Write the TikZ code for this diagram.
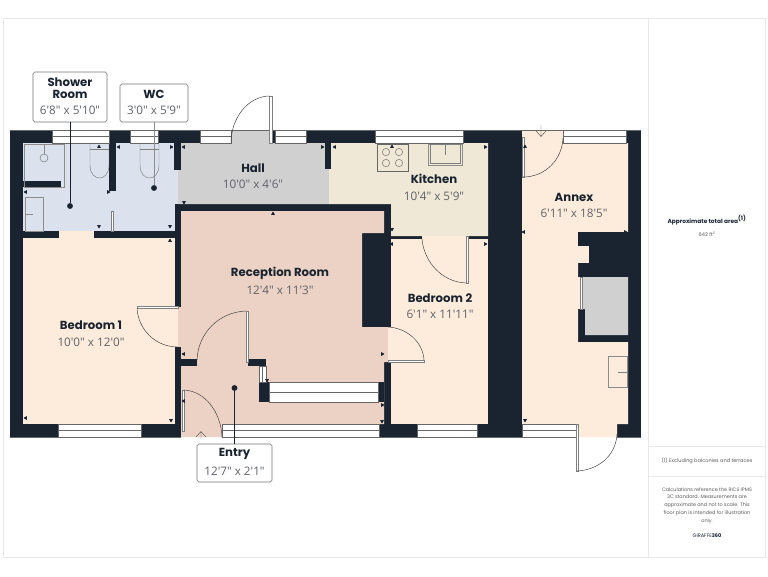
\documentclass[tikz,border=0pt]{standalone}
\usepackage{fontspec}
\setmainfont{Poppins}
\newfontfamily\sizefont{Open Sans}
\usetikzlibrary{positioning}
\definecolor{wallcol}{RGB}{26, 36, 49}
\definecolor{peachcol}{RGB}{253, 236, 219}
\definecolor{pinkcol}{RGB}{235, 210, 196}
\definecolor{bluecol}{RGB}{219, 226, 238}
\definecolor{hallcol}{RGB}{208, 208, 208}
\definecolor{creamcol}{RGB}{239, 232, 214}
\definecolor{sizecol}{RGB}{95, 98, 104}
\definecolor{framecol}{RGB}{232, 232, 232}
\newcommand{\fts}{\textquotesingle}
\newcommand{\ins}{\textquotedbl}

\begin{document}
\begin{tikzpicture}[x=0.03cm, y=-0.03cm,
  wall/.style={fill=wallcol, draw=none},
  glass/.style={fill=white, draw=black!60, line width=0.5pt},
  fixture/.style={draw=black!45, line width=0.7pt},
  leaf/.style={fill=white, draw=black!50, line width=0.35pt},
  swing/.style={draw=black!75, line width=0.4pt},
  tagbox/.style={draw=black!55, fill=white, rounded corners=1.5pt, line width=0.5pt},
  pin/.style={circle, fill=wallcol, inner sep=0pt, minimum size=5pt},
  roomname/.style={font=\fontsize{10}{11}\selectfont\bfseries, text=wallcol, inner sep=0pt},
  roomsize/.style={font=\fontsize{10}{11}\sizefont\selectfont, text=sizecol, inner sep=0pt},
  sidetext/.style={align=center, inner sep=0pt, text=black!65, font=\fontsize{4.3}{7}\selectfont}
]
  \useasboundingbox (0,0) rectangle (768,576);
  % sheet
  \draw[framecol, line width=0.6pt] (3,18) rectangle (765,557);
  \draw[framecol, line width=0.6pt] (648,18) -- (648,557) (648,446) -- (765,446) (648,476) -- (765,476);

  % shell and rooms
  \fill[wallcol] (10,130) rectangle (641,437);
  \fill[peachcol] (23,238) rectangle (175,424);
  \fill[peachcol] (175,307) rectangle (178,347);
  \fill[peachcol] (59,231) rectangle (94,238);
  \fill[bluecol] (23,143) rectangle (178,204);
  \fill[bluecol] (23,204) rectangle (175,231);
  \fill[hallcol] (178,143) -- (231,143) -- (231,130) -- (272,130) -- (272,143) -- (329,143) -- (329,204) -- (178,204) -- cycle;
  \fill[creamcol] (329,143) -- (488,143) -- (488,236) -- (391,236) -- (391,204) -- (329,204) -- cycle;
  \fill[pinkcol] (181,211) -- (384,211) -- (384,233) -- (362,233) -- (362,327) -- (388,327) -- (388,362) -- (384,362) -- (384,424) -- (222,424) -- (222,437) -- (181,437) -- cycle;
  \fill[pinkcol] (178,307) rectangle (181,347);
  \fill[peachcol] (391,239) rectangle (488,424);
  \fill[peachcol] (388,327) rectangle (391,362);
  \fill[peachcol] (422,236) rectangle (468,239);
  \fill[peachcol] (522,130) -- (563,130) -- (563,143) -- (628,143) -- (628,232) -- (578,232) -- (578,342) -- (628,342) -- (628,424) -- (617,424) -- (617,437) -- (577,437) -- (577,424) -- (522,424) -- cycle;
  \fill[wallcol] (578,232) rectangle (628,246);
  \fill[peachcol] (578,246) rectangle (589,263);
  \fill[peachcol] (578,277) rectangle (582,309);
  \fill[hallcol] (582,277) -- (628,277) -- (628,335) -- (585,335) -- (585,309) -- (582,309) -- cycle;

  % inner walls
  \foreach \xa/\ya/\xb/\yb in {109/143/116/191, 174/143/181/170, 325/143/331/169, 23/181/61/187, 181/359/197/366, 248/359/266/366, 259/382/269/402, 378/382/384/402}
    \fill[wall] (\xa,\ya) rectangle (\xb,\yb);

  % windows, lying
  \foreach \xa/\xb/\ya/\yb in {52/109/130/143, 130/158/130/143, 200/231/130/143, 275/306/130/143, 375/463/130/143, 563/626/130/143, 58/141/424/437, 222/379/424/437, 417/477/424/437, 522/576/424/437, 269/378/382/402} {
    \draw[glass] (\xa,\ya) rectangle (\xb,\yb);
    \draw[black!60, line width=0.5pt] (\xa,{(\ya+\yb)/2}) -- (\xb,{(\ya+\yb)/2});
  }
  % window, standing
  \draw[glass] (259,366) rectangle (266,382);
  \draw[black!60, line width=0.5pt] (262.5,366) -- (262.5,382);
  \draw[black!60, line width=0.5pt] (10,130) -- (641,130) (10,437) -- (181,437) (379,437) -- (577,437) (617,437) -- (641,437);

  % doors
  \draw[leaf] (269.5,96) rectangle (272,143);
  \draw[swing] (270,96) .. controls (248,96) and (231,118) .. (231,143);
  \draw[leaf] (137,306) rectangle (178,308);
  \draw[swing] (137,308) .. controls (138,329) and (155,347) .. (178,347);
  \draw[leaf] (246,311) rectangle (248,362);
  \draw[swing] (246,311) .. controls (219,312) and (198,333) .. (197,360);
  \draw[leaf] (182,390) rectangle (184,431);
  \draw[swing] (184,390) .. controls (205,391) and (221,412) .. (222,437);
  \draw[leaf] (388,360) rectangle (424,362);
  \draw[swing] (388,327) .. controls (407,328) and (423,342) .. (424,360);
  \draw[leaf] (466,236) rectangle (468,283);
  \draw[swing] (422,239) .. controls (424,262) and (442,282) .. (466,283);
  \draw[leaf] (522,137) rectangle (524,177);
  \draw[swing] (523,177) .. controls (545,177) and (562,160) .. (563,138);
  \draw[leaf] (576,424) rectangle (578,471);
  \draw[swing] (577,471) .. controls (599,470) and (616,455) .. (617,434);
  \draw[leaf] (580.5,277) rectangle (582,309);

  % way in
  \draw[black!70, line width=0.35pt] (196,437) -- (201,431.5) -- (206,437) (201,431.5) -- (201,439);
  \draw[black!70, line width=0.35pt] (536,131) -- (541,136.5) -- (546,131) (541,136.5) -- (541,125);

  % fittings
  \draw[fixture] (24,144.5) rectangle (64,187);
  \draw[black!45, line width=0.35pt] (44,145) -- (44,154);
  \draw[black!60, line width=0.35pt] (44,158) circle (4);
  \draw[fixture] (25,197) rectangle (43,231);
  \draw[fixture] (25,214) -- (33,214);
  \foreach \xa/\xb in {90/109, 140/159} {
    \draw[black!50, line width=0.4pt] (\xa,144) -- (\xa,165) .. controls (\xa,174) and ({\xa+5},178) .. ({(\xa+\xb)/2},178) .. controls ({\xb-5},178) and (\xb,174) .. (\xb,165) -- (\xb,144);
    \draw[black!50, line width=0.4pt] (\xa,149) -- (\xb,149);
  }
  \draw[leaf] (111.5,211) rectangle (113.5,231);
  \draw[black!60, line width=0.4pt] (377,144) rectangle (408,171);
  \foreach \px/\py in {386/152, 399/152, 386/163, 399/163}
    \draw[black!60, line width=0.35pt] (\px,\py) circle (3.7);
  \draw[fixture] (428,144) rectangle (462,165);
  \draw[black!50, line width=0.35pt] (430,144) rectangle (460,163);
  \draw[black!50, line width=0.4pt] (445,144) -- (445,155);
  \draw[fixture] (608,356) rectangle (627,387);
  \draw[black!50, line width=0.4pt] (618,372) -- (627,372);

  % little ticks at the walls
  \foreach \px/\py/\ang in {99/147/90, 119/147/180, 171/147/0, 184/147/180, 108/192/0, 26/192/180, 99/226/270, 170/226/270, 170/241/90, 184/202/270, 322/147/0, 335/147/180, 392/147/90, 485/147/0, 392/229/270, 392/244/180, 485/244/0, 273/214/90, 184/354/180, 184/401/180, 171/420/270, 382/354/0, 382/405/0, 382/421/270, 267/380/270, 26/418/180, 524/232/180, 625/232/0, 525/147/90, 525/420/270}
    \fill[wallcol, shift={(\px,\py)}, rotate=\ang] (2.2,-0.3) -- (2.2,0.3) -- (-0.8,1.9) -- (-0.8,-1.9) -- cycle;

  % tags
  \node[tagbox, minimum width=74*0.3mm, minimum height=50*0.3mm] (showertag) at (70,97) {};
  \node[tagbox, minimum width=68*0.3mm, minimum height=38*0.3mm] (wctag) at (154,103) {};
  \node[tagbox, minimum width=75*0.3mm, minimum height=38*0.3mm] (entrytag) at (234.5,463) {};
  \node[pin] (showerpin) at (70,206) {};
  \node[pin] (wcpin) at (154,188) {};
  \node[pin] (entrypin) at (234.5,388) {};
  \draw[wallcol, line width=0.5pt] (showertag) -- (showerpin);
  \draw[black!45, line width=0.8pt] (wctag) -- (wcpin);
  \draw[wallcol, line width=0.5pt] (entrytag) -- (entrypin);

  % room names
  \node[roomname, align=center, font=\fontsize{10}{10.4}\selectfont\bfseries] (showername) at (70,88) {Shower\\Room};
  \node[roomsize] (showersize) at (70,110) {6\fts8\ins{} x 5\fts10\ins};
  \node[roomname] (wcname) at (154,94) {WC};
  \node[roomsize] (wcsize) at (154,110) {3\fts0\ins{} x 5\fts9\ins};
  \node[roomname] (hallname) at (253,168) {Hall};
  \node[roomsize] (hallsize) at (253,184) {10\fts0\ins{} x 4\fts6\ins};
  \node[roomname] (kitchenname) at (434,179) {Kitchen};
  \node[roomsize] (kitchensize) at (434,196) {10\fts4\ins{} x 5\fts9\ins};
  \node[roomname] (receptionname) at (280,273) {Reception Room};
  \node[roomsize] (receptionsize) at (280,290) {12\fts4\ins{} x 11\fts3\ins};
  \node[roomname] (bedoname) at (91,325) {Bedroom 1};
  \node[roomsize] (bedosize) at (91,342) {10\fts0\ins{} x 12\fts0\ins};
  \node[roomname] (bedtname) at (440,298) {Bedroom 2};
  \node[roomsize] (bedtsize) at (440,314) {6\fts1\ins{} x 11\fts11\ins};
  \node[roomname] (annexname) at (574,197) {Annex};
  \node[roomsize] (annexsize) at (574,213) {6\fts11\ins{} x 18\fts5\ins};
  \node[roomname] (entryname) at (234.5,454) {Entry};
  \node[roomsize] (entrysize) at (234.5,471) {12\fts7\ins{} x 2\fts1\ins};

  % side panel
  \node[sidetext, text=wallcol, font=\fontsize{5}{7}\selectfont\bfseries] (areaname) at (707,220) {Approximate total area\textsuperscript{(1)}};
  \node[sidetext] (areasize) at (707,234) {642 ft\textsuperscript{2}};
  \node[sidetext] (areanote) at (707,461) {(1) Excluding balconies and terraces};
  \node[sidetext, anchor=north, font=\fontsize{4.2}{6.8}\selectfont] (calcnote) at (707,487) {Calculations reference the RICS IPMS\\3C standard. Measurements are\\approximate and not to scale. This\\floor plan is intended for illustration\\only.};
  \node[sidetext, text=wallcol] (brand) at (707,536) {GIRAFFE\textbf{360}};
\end{tikzpicture}
\end{document}
